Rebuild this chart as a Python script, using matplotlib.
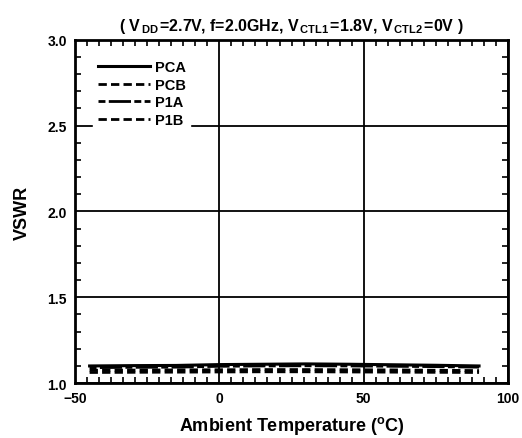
import matplotlib
matplotlib.use('Agg')
import matplotlib.pyplot as plt
from matplotlib.ticker import MultipleLocator, AutoMinorLocator

plt.rcParams['font.family'] = ['Liberation Sans', 'DejaVu Sans']
plt.rcParams['font.weight'] = 'bold'
plt.rcParams['mathtext.fontset'] = 'custom'
plt.rcParams['mathtext.rm'] = 'Liberation Sans:bold'
plt.rcParams['mathtext.it'] = 'Liberation Sans:bold'
plt.rcParams['mathtext.bf'] = 'Liberation Sans:bold'

# data
temps = [-45, -30, -15, 0, 15, 30, 45, 60, 75, 90]
pca = [1.100, 1.102, 1.103, 1.108, 1.110, 1.112, 1.110, 1.107, 1.104, 1.100]
pcb = [1.075, 1.076, 1.077, 1.078, 1.079, 1.079, 1.078, 1.077, 1.075, 1.073]
p1a = [1.090, 1.092, 1.093, 1.098, 1.100, 1.101, 1.100, 1.098, 1.096, 1.093]
p1b = [1.062, 1.063, 1.064, 1.065, 1.066, 1.066, 1.065, 1.064, 1.063, 1.062]

fig = plt.figure(figsize=(5.22, 4.39), dpi=100)
ax = fig.add_axes([0.144, 0.125, 0.829, 0.782])

ax.plot(temps, pca, color='black', lw=2.2, ls='-', label='PCA')
ax.plot(temps, pcb, color='black', lw=2.0, dashes=(3, 1.5), label='PCB')
ax.plot(temps, p1a, color='black', lw=2.0, dashes=(2.5, 1.2, 8, 1.2), label='P1A')
ax.plot(temps, p1b, color='black', lw=2.0, dashes=(3, 1.5), label='P1B')

ax.set_xlim(-50, 100)
ax.set_ylim(1.0, 3.0)
ax.xaxis.set_major_locator(MultipleLocator(50))
ax.yaxis.set_major_locator(MultipleLocator(0.5))
ax.xaxis.set_minor_locator(AutoMinorLocator(12))
ax.yaxis.set_minor_locator(AutoMinorLocator(5))
ax.yaxis.set_major_formatter(plt.FuncFormatter(lambda v, p: f'{v:.1f}'))

ax.grid(True, which='major', color='black', lw=1.3)
ax.tick_params(which='both', direction='in', top=True, right=True, labelsize=10)
ax.tick_params(which='major', length=0, pad=6)
ax.tick_params(which='minor', length=4, width=1.2)
for s in ax.spines.values():
    s.set_linewidth(2)

ax.set_xlabel('Ambient Temperature ($^{o}$C)', fontsize=13, fontweight='bold', labelpad=6)
ax.set_ylabel('VSWR', fontsize=13, fontweight='bold', labelpad=12)
ax.set_title(r'( V$_{\,DD\,}$=2.7V, f=2.0GHz, V$_{\,CTL1\,}$=1.8V, V$_{\,CTL2\,}$=0V )',
             fontsize=11.5, fontweight='bold', pad=7)

leg = ax.legend(loc='upper left', bbox_to_anchor=(0.025, 0.975), frameon=True,
                fontsize=10.5, handlelength=3.6, handletextpad=0.3,
                labelspacing=0.25, borderpad=0.3)
leg.get_frame().set_edgecolor('white')
leg.get_frame().set_facecolor('white')
leg.get_frame().set_alpha(1)
leg.get_frame().set_boxstyle('square', pad=0)
for t in leg.get_texts():
    t.set_fontweight('bold')

fig.savefig('out.png', dpi=100)
